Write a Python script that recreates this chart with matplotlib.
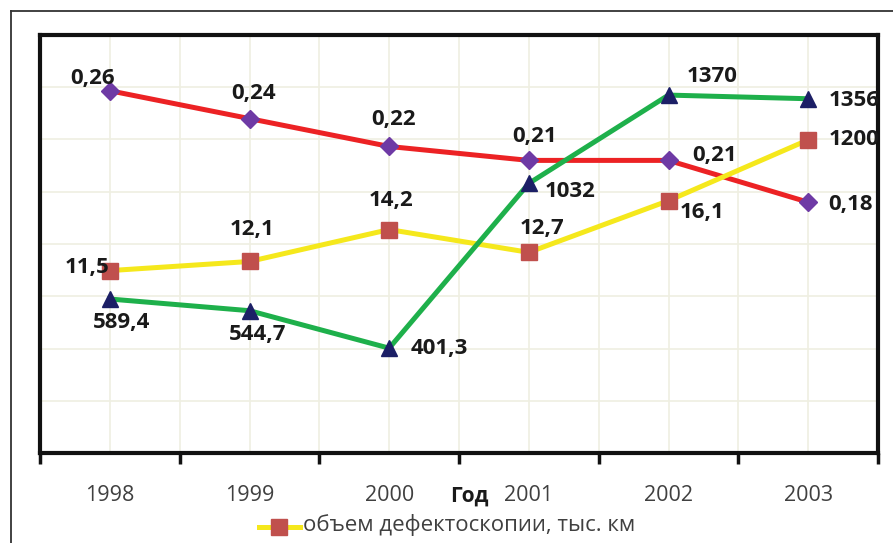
import matplotlib
matplotlib.use('Agg')
import matplotlib.pyplot as plt
from matplotlib.lines import Line2D

years = ['1998', '1999', '2000', '2001', '2002', '2003']
# red series (diamonds)
share = [0.26, 0.24, 0.22, 0.21, 0.21, 0.18]
# yellow series (squares) - value read on its own scale, labels as printed
volume = [11.5, 12.1, 14.2, 12.7, 16.1, 20.1]
volume_labels = ['11,5', '12,1', '14,2', '12,7', '16,1', '1200']
# green series (triangles)
length = [589.4, 544.7, 401.3, 1032, 1370, 1356]
legend_label = 'объем дефектоскопии, тыс. км'
x_title = 'Год'

W, H = 893, 543
fig = plt.figure(figsize=(W / 100, H / 100), dpi=100)

def fx(px):
    return px / W

def fy(py):
    return 1 - py / H

# outer frame (left and top edges visible)
fig.add_artist(Line2D([fx(11), fx(11)], [fy(11), 0], color='#333333', lw=1.3))
fig.add_artist(Line2D([fx(11), 1], [fy(11), fy(11)], color='#333333', lw=1.3))

left, right, top, bottom = 40, 878, 35, 453
ax = fig.add_axes([fx(left), fy(bottom), fx(right - left), (bottom - top) / H])
n = len(years)
xs = list(range(n))
ax.set_xlim(-0.5, n - 0.5)
ax.set_ylim(0, 8)
ax.set_xticks(xs)
ax.set_xticklabels(years, fontsize=15.5, color='#404040', family='Open Sans')
ax.set_xticks([i - 0.5 for i in range(n + 1)], minor=True)
ax.tick_params(axis='x', which='major', length=0, pad=23)
ax.tick_params(axis='x', which='minor', length=8, width=2.5, direction='out', color='#111111')
ax.set_yticks(range(9))
ax.set_yticklabels([])
ax.tick_params(axis='y', length=0)
ax.grid(True, which='both', color='#efefe2', lw=1.2)
ax.set_axisbelow(True)
for s in ax.spines.values():
    s.set_linewidth(3)
    s.set_color('#111111')

common = dict(fontsize=16, fontweight='bold', color='#1a1a1a', family='Open Sans',
              ha='center', va='center', textcoords='offset pixels')

# red series
ax_r = ax.twinx()
ax_r.set_ylim(0, 0.30)
ax_r.plot(xs, share, color='#ec2224', lw=3.6, marker='D', ms=9,
          mfc='#6e3aa5', mec='#6e3aa5', zorder=2)
red_off = [(-17, 12), (4, 25), (4, 27), (6, 24), (46, 5), (42, -2)]
for x, v, o in zip(xs, share, red_off):
    ax_r.annotate(f'{v:.2f}'.replace('.', ','), (x, v), xytext=o, **common)

# yellow series
ax_y = ax.twinx()
ax_y.set_ylim(-0.5, 27)
ax_y.plot(xs, volume, color='#f5e81c', lw=3.6, marker='s', ms=11,
          mfc='#c0504d', mec='#c0504d', zorder=3)
yel_off = [(-23, 3), (3, 32), (2, 29), (13, 24), (34, -12), (46, 0)]
for x, v, lab, o in zip(xs, volume, volume_labels, yel_off):
    ax_y.annotate(lab, (x, v), xytext=o, **common)

# green series
ax_g = ax.twinx()
ax_g.set_ylim(0, 1600)
ax_g.plot(xs, length, color='#1eb04b', lw=3.6, marker='^', ms=11,
          mfc='#1c1f66', mec='#1c1f66', zorder=4)
grn_off = [(12, -23), (8, -24), (50, 0), (41, -8), (44, 19), (46, -2)]
for x, v, o in zip(xs, length, grn_off):
    lab = f'{v:g}'.replace('.', ',')
    ax_g.annotate(lab, (x, v), xytext=o, **common)

for a in (ax_r, ax_y, ax_g):
    a.set_yticks([])
    a.axis('off')

# x title placed next to 2001 label
fig.text(fx(469), fy(496), x_title, fontsize=15, fontweight='bold', color='#1a1a1a',
         family='Open Sans', ha='center', va='center')

# legend (only the visible entry)
fig.add_artist(Line2D([fx(259), fx(300)], [fy(527), fy(527)], color='#f5e81c', lw=3.6))
fig.add_artist(Line2D([fx(279)], [fy(527)], marker='s', ms=11, color='#c0504d', lw=0))
fig.text(fx(303), fy(525), legend_label, fontsize=16, color='#404040',
         family='Open Sans', ha='left', va='center')

fig.savefig('out.png', dpi=100)
